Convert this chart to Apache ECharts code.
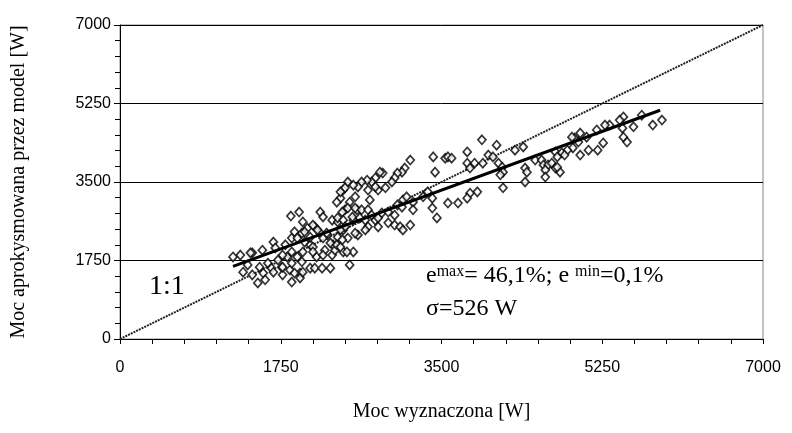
<!DOCTYPE html>
<html>
<head>
<meta charset="utf-8">
<script src="https://cdn.jsdelivr.net/npm/echarts@6/dist/echarts.min.js"></script>
<style>html,body{margin:0;padding:0;background:#fff}#c{width:792px;height:433px}</style>
</head>
<body>
<div id="c"></div>
<script>
var xTitle = 'Moc wyznaczona [W]';
var yTitle = 'Moc aprokysmowana przez model [W]';
var axisMin = 0, axisMax = 7000, axisStep = 1750;
var diagonal = [[0, 0], [7000, 7000]];
var trend = [[1230, 1620], [5880, 5100]];
var points = [
[1230,1830],[1310,1870],[1440,1920],[1550,1980],[1670,2160],[1690,2030],[1800,2100],[1870,2250],
[1980,2360],[2040,2470],[2120,2500],[2180,2360],[2260,2320],[2070,2100],[1990,1940],[1930,1830],
[1820,1830],[1720,1760],[1610,1690],[1520,1600],[1390,1650],[1340,1490],[1440,1430],[1560,1470],
[1650,1580],[1760,1600],[1850,1540],[1960,1470],[2070,1580],[2120,1580],[2200,1580],[2290,1580],
[1980,1720],[2140,1830],[2320,2100],[2230,1980],[2310,1870],[1860,2740],[1950,2830],[2180,2830],
[2210,2720],[1500,1250],[1580,1320],[1870,1270],[1960,1360],[1990,1490],[1900,1470],[1770,1430],
[1670,1490],[2500,1650],[1420,1920],
[2480,3500],[2430,3320],[2400,3140],[2360,3050],[2500,3050],[2450,2880],[2580,2880],[2540,2650],
[2310,2650],[2370,2610],[2100,2540],[1990,2610],[1900,2390],[2010,2390],[2070,2270],[2150,2430],
[2250,2360],[2430,2430],[2480,2250],[2290,2140],[2210,2250],[2100,2050],[2010,2160],[1930,2250],
[1770,1870],[1870,1940],[2100,1940],[2210,1870],[2340,1980],[2430,1940],[2540,1940],[1770,1600],
[1870,1690],
[3160,3990],[3410,4060],[3540,4030],[3430,3720],[3100,3810],[3070,3720],[3020,3700],[2990,3590],
[2960,3500],[2860,3700],[2830,3720],[2780,3590],[2740,3500],[2690,3540],[2630,3500],[2590,3390],
[2540,3430],[2450,3370],[2400,3280],[2560,3170],[2700,3320],[2810,3320],[2890,3370],[2780,3390],
[2720,3100],[2480,2920],[2560,2920],[2630,2880],[2700,2880],[2740,2760],[2420,2830],[2370,2700],
[2430,2650],[2530,2720],[2610,2700],[2670,2650],[2780,2650],[2810,2700],[2850,2810],[2920,2830],
[2990,2760],[3020,2990],[3080,3100],[3120,3170],[3190,3050],[3190,2880],[3070,2940],[3300,3170],
[3350,3280],[3400,3140],[3400,2920],[3450,2700],[3570,3030],[2810,2500],[2920,2590],[2990,2540],
[3050,2500],[3080,2430],[3160,2540],[2700,2500],[2670,2430],[2590,2320],[2560,2360],[2450,2500],
[2400,2430],[2370,2270],[2420,2210],[2360,2100],[2400,2050],[2470,1940],
[3940,4440],[4100,4320],[3780,4170],[4010,4100],[4060,4060],[3570,4060],[3610,4030],[3780,3920],
[3860,3920],[3810,3810],[3950,3920],[4120,3920],[4160,3830],[4170,3720],[4140,3660],[4300,4210],
[4390,4280],[4410,3810],[4430,3720],[4520,3990],[4590,3990],[4610,3880],[4660,3880],[4700,3920],
[4740,3810],[4630,3770],[4630,3610],[4740,4170],[4410,3500],[4170,3370],[3890,3280],[3810,3250],
[3780,3140],[3680,3030],
[5900,4880],[5800,4770],[5590,4730],[5480,4950],[5440,4880],[5470,4700],[5480,4500],[5520,4390],
[5330,4770],[5280,4770],[5190,4660],[5080,4500],[5010,4590],[4950,4480],[4920,4500],[4990,4390],
[4930,4260],[4870,4210],[4810,4150],[4760,4060],[4840,4100],[5010,4100],[5100,4210],[5200,4210],
[5260,4370],[4790,3720],[4760,3830],[5680,4990]
];

var chart = echarts.init(document.getElementById('c'), null, {renderer: 'canvas'});
var tickFont = {fontFamily: 'Liberation Sans, Arial, sans-serif', fontSize: 16, color: '#000',
  formatter: function (v) { return String(v); }};
var serif = 'Liberation Serif, Times New Roman, serif';
chart.setOption({
  backgroundColor: '#fff',
  animation: false,
  grid: {left: 120, right: 29, top: 25, bottom: 94, show: true, borderColor: '#888', borderWidth: 1},
  xAxis: {
    type: 'value', min: axisMin, max: axisMax, interval: axisStep,
    name: xTitle, nameLocation: 'middle', nameGap: 63,
    nameTextStyle: {fontFamily: serif, fontSize: 20, color: '#000'},
    axisLine: {show: true, lineStyle: {color: '#000', width: 1}},
    axisTick: {show: true, length: 5, lineStyle: {color: '#000'}},
    minorTick: {show: true, splitNumber: 5, length: 5, lineStyle: {color: '#000'}},
    axisLabel: Object.assign({margin: 21}, tickFont),
    splitLine: {show: false}
  },
  yAxis: {
    type: 'value', min: axisMin, max: axisMax, interval: axisStep,
    name: yTitle, nameLocation: 'middle', nameGap: 91,
    nameTextStyle: {fontFamily: serif, fontSize: 20, color: '#000'},
    axisLine: {show: true, lineStyle: {color: '#000', width: 1}},
    axisTick: {show: true, length: 6, lineStyle: {color: '#000'}},
    minorTick: {show: true, splitNumber: 5, length: 5, lineStyle: {color: '#000'}},
    axisLabel: Object.assign({margin: 9}, tickFont),
    splitLine: {show: true, lineStyle: {color: '#000', width: 1}}
  },
  series: [
    {type: 'line', data: diagonal, symbol: 'none', silent: true,
     lineStyle: {color: '#222', width: 2, type: [2, 1]}, z: 2},
    {type: 'scatter', data: points, symbol: 'diamond', symbolSize: [8, 9],
     itemStyle: {color: '#fff', borderColor: '#000', borderWidth: 1.7}, z: 3},
    {type: 'line', data: trend, symbol: 'none', silent: true,
     lineStyle: {color: '#000', width: 3}, z: 4}
  ],
  graphic: [
    {type: 'text', left: 149, top: 273, style: {text: '1:1', font: '28px ' + serif, fill: '#000'}},
    {type: 'text', left: 426, top: 264, style: {
      text: 'e{s|max}= 46,1%; e {s|min}=0,1%',
      font: '24px ' + serif, fill: '#000',
      rich: {s: {fontSize: 16, fontFamily: serif, verticalAlign: 'top', lineHeight: 16, padding: [0, 0, 12, 0]}}
    }},
    {type: 'text', left: 426, top: 297, style: {text: 'σ=526 W', font: '24px ' + serif, fill: '#000'}}
  ]
});
</script>
</body>
</html>
